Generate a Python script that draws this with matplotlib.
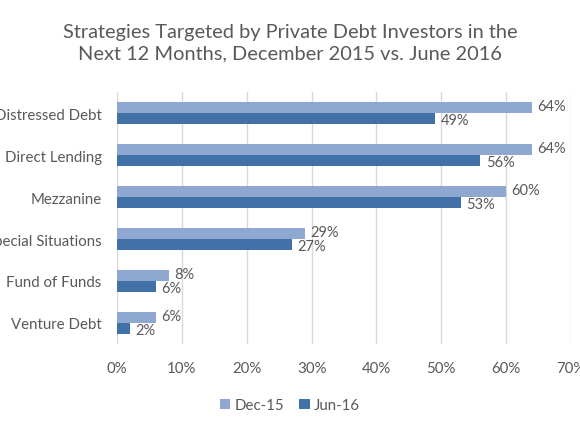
import matplotlib
matplotlib.use("Agg")
import matplotlib.pyplot as plt
import numpy as np

categories = ["Distressed Debt", "Direct Lending", "Mezzanine", "Special Situations", "Fund of Funds", "Venture Debt"]
dec15 = [64, 64, 60, 29, 8, 6]
jun16 = [49, 56, 53, 27, 6, 2]
series_names = ["Dec-15", "Jun-16"]
xticks = [0, 10, 20, 30, 40, 50, 60, 70]

plt.rcParams['font.family'] = ['Lato', 'DejaVu Sans']
text_color = '#595959'
c_light = '#8FA8D2'
c_dark = '#4271A8'

fig = plt.figure(figsize=(5.8, 4.35), dpi=100)
ax = fig.add_axes([0.2017, 0.207, 0.7828, 0.579])

n = len(categories)
y = np.arange(n)
h = 0.26
b1 = ax.barh(y - h/2, dec15, height=h, color=c_light, label=series_names[0], zorder=3)
b2 = ax.barh(y + h/2, jun16, height=h, color=c_dark, label=series_names[1], zorder=3)

for yi, v in zip(y, dec15):
    ax.annotate(f"{v}%", (v, yi - h/2), xytext=(4, 1), textcoords='offset points',
                va='center', ha='left', fontsize=10.5, color=text_color)
for yi, v in zip(y, jun16):
    ax.annotate(f"{v}%", (v, yi + h/2), xytext=(4, -1), textcoords='offset points',
                va='center', ha='left', fontsize=10.5, color=text_color)

ax.set_ylim(n - 0.5, -0.5)
ax.set_xlim(0, 70)
ax.set_xticks(xticks)
ax.set_xticklabels([f"{t}%" for t in xticks])
ax.set_yticks(y)
ax.set_yticklabels(categories)
ax.tick_params(axis='both', length=0, colors=text_color, labelsize=10.8)
ax.tick_params(axis='x', pad=12)
ax.tick_params(axis='y', pad=11)
ax.grid(axis='x', color='#D9D9D9', linewidth=1, zorder=0)
for s in ax.spines.values():
    s.set_visible(False)

fig.text(0.5, 0.901, "Strategies Targeted by Private Debt Investors in the\nNext 12 Months, December 2015 vs. June 2016",
         ha='center', va='center', fontsize=14.4, color=text_color, linespacing=1.3)

fig.legend(handles=[b1, b2], loc='center', bbox_to_anchor=(0.5, 0.066), ncol=2, frameon=False,
           fontsize=10.8, labelcolor=text_color, handlelength=0.7, handleheight=0.7,
           handletextpad=0.3, columnspacing=1.0)

fig.savefig("out.png", dpi=100)
